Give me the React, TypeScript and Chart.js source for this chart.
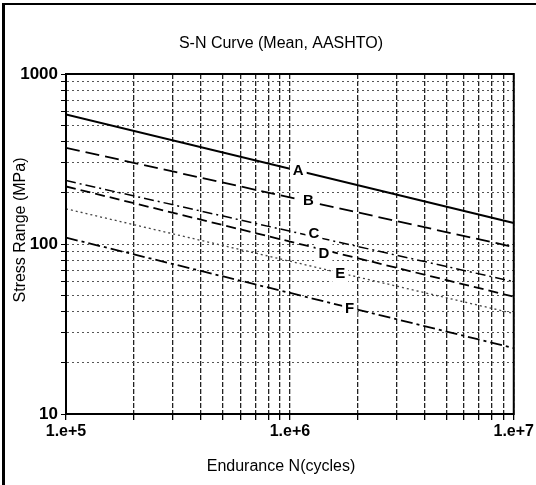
import React, { useEffect, useRef } from "react";
import { Chart, registerables } from "chart.js";

Chart.register(...registerables);

// ---- data ----
const seriesNames = ["A", "B", "C", "D", "E", "F"];
const endurance = [1e5, 1e7];
const stressA = [578, 133];
const stressB = [368, 96];
const stressC = [236, 60];
const stressD = [218, 49];
const stressE = [161, 39];
const stressF = [109, 24.4];
const labelN = [1.09e6, 1.21e6, 1.28e6, 1.42e6, 1.68e6, 1.85e6];
const labelS = [272, 181, 116, 88.5, 67.5, 42];
const xTickLabels: Record<number, string> = { 100000: "1.e+5", 1000000: "1.e+6", 10000000: "1.e+7" };
const yTickLabels: Record<number, string> = { 10: "10", 100: "100", 1000: "1000" };
const xDecades = [1e5, 1e6];
const yDecades = [10, 100];
const steps = [1, 2, 3, 4, 5, 6, 7, 8, 9];
const titleText = "S-N Curve (Mean, AASHTO)";
const xTitleText = "Endurance N(cycles)";
const yTitleText = "Stress Range (MPa)";

const FONT = "'Liberation Sans', Arial, Helvetica, sans-serif";
const NARROW = "'Liberation Sans Narrow', 'Liberation Sans', Arial, sans-serif";

const lineStyles = [
  { dash: [], width: 2 },
  { dash: [14, 6], width: 1.8 },
  { dash: [10, 4, 2, 4], width: 1.5 },
  { dash: [10, 5], width: 1.8 },
  { dash: [2, 3], width: 1.3 },
  { dash: [12, 4, 3, 4], width: 1.8 },
];

function gridValues(decades: number[], last: number) {
  const out: number[] = [];
  decades.forEach((d) => steps.forEach((s) => out.push(d * s)));
  out.push(last);
  return out;
}

const decorPlugin = {
  id: "decor",
  afterDatasetsDraw(chart: any) {
    const { ctx, chartArea, scales } = chart;
    ctx.save();
    // plot frame
    ctx.strokeStyle = "#000";
    ctx.lineWidth = 2;
    ctx.setLineDash([]);
    ctx.strokeRect(chartArea.left, chartArea.top, chartArea.right - chartArea.left, chartArea.bottom - chartArea.top);
    // image frame (left + top)
    ctx.lineWidth = 3;
    ctx.beginPath();
    ctx.moveTo(3.5, 3);
    ctx.lineTo(3.5, 485);
    ctx.stroke();
    ctx.lineWidth = 2;
    ctx.beginPath();
    ctx.moveTo(2, 4);
    ctx.lineTo(536, 4);
    ctx.stroke();
    // curve labels
    ctx.font = `bold 15px ${FONT}`;
    ctx.textAlign = "center";
    ctx.textBaseline = "middle";
    seriesNames.forEach((name, i) => {
      const x = scales.x.getPixelForValue(labelN[i]);
      const y = scales.y.getPixelForValue(labelS[i]);
      const w = ctx.measureText(name).width + 6;
      ctx.fillStyle = "#fff";
      ctx.fillRect(x - w / 2, y - 9, w, 18);
      ctx.fillStyle = "#000";
      ctx.fillText(name, x, y + 1);
    });
    // titles
    ctx.fillStyle = "#000";
    ctx.font = `16px ${FONT}`;
    ctx.fillText(titleText, 281, 44);
    ctx.fillText(xTitleText, 281, 467);
    ctx.save();
    ctx.translate(21, 230);
    ctx.rotate(-Math.PI / 2);
    ctx.fillText(yTitleText, 0, 0);
    ctx.restore();
    ctx.restore();
  },
};

export default function App() {
  const ref = useRef<HTMLCanvasElement>(null);
  useEffect(() => {
    if (!ref.current) return;
    const series = [stressA, stressB, stressC, stressD, stressE, stressF];
    const chart = new Chart(ref.current, {
      type: "line",
      data: {
        datasets: series.map((s, i) => ({
          label: seriesNames[i],
          data: endurance.map((n, j) => ({ x: n, y: s[j] })),
          borderColor: i === 4 ? "#444" : "#000",
          borderWidth: lineStyles[i].width,
          borderDash: lineStyles[i].dash,
          pointRadius: 0,
          fill: false,
          tension: 0,
        })),
      },
      options: {
        responsive: false,
        animation: false,
        layout: { padding: { left: 4, right: 19, top: 74, bottom: 0 } },
        plugins: {
          legend: { display: false },
          tooltip: { enabled: false },
          title: { display: false },
        },
        scales: {
          x: {
            type: "logarithmic",
            min: 1e5,
            max: 1e7,
            afterBuildTicks: (scale: any) => {
              scale.ticks = gridValues(xDecades, 1e7).map((v) => ({ value: v }));
            },
            afterFit: (scale: any) => {
              scale.height = 71;
            },
            ticks: {
              autoSkip: false,
              maxRotation: 0,
              padding: 2,
              color: "#000",
              font: { family: FONT, size: 16, weight: "bold" },
              callback: (v: any) => xTickLabels[Number(v)] ?? "",
            },
            grid: { color: "#222", lineWidth: 1.3, tickLength: 6, tickColor: "#000" },
            border: { display: true, color: "#000", width: 2, dash: [5, 2] },
          },
          y: {
            type: "logarithmic",
            min: 10,
            max: 1000,
            afterBuildTicks: (scale: any) => {
              scale.ticks = gridValues(yDecades, 1000).map((v) => ({ value: v }));
            },
            afterFit: (scale: any) => {
              scale.width = 62;
            },
            ticks: {
              autoSkip: false,
              padding: 3,
              color: "#000",
              font: { family: NARROW, size: 17, weight: "bold" },
              callback: (v: any) => yTickLabels[Number(v)] ?? "",
            },
            grid: { color: "#555", lineWidth: 1, tickLength: 5, tickColor: "#000" },
            border: { display: true, color: "#000", width: 2, dash: [2, 3] },
          },
        },
      },
      plugins: [decorPlugin],
    });
    return () => chart.destroy();
  }, []);
  return (
    <div style={{ position: "absolute", left: 0, top: 0, width: 536, height: 485, background: "#fff" }}>
      <canvas ref={ref} width={536} height={485} style={{ display: "block" }} />
    </div>
  );
}
